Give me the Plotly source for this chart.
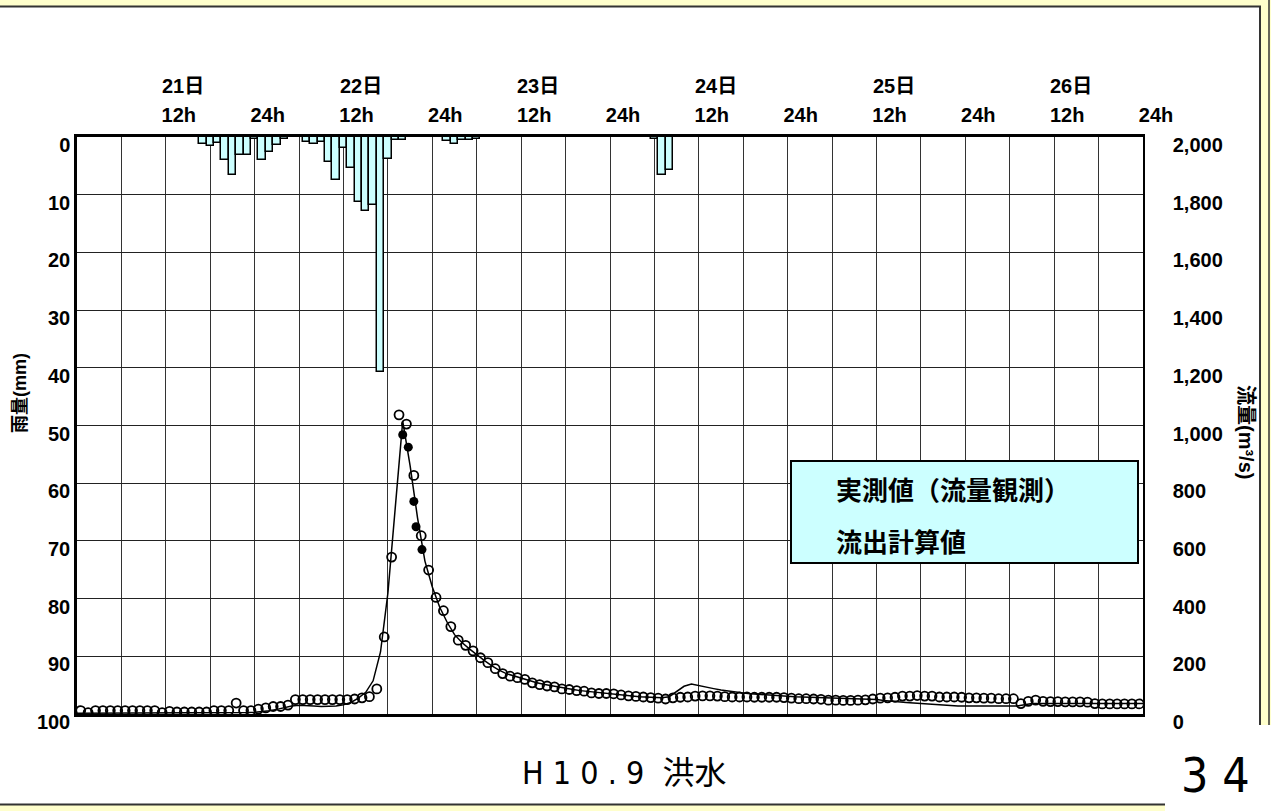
import plotly.graph_objects as go

# ---------------- data ----------------
# time axis: hours from 21日 0h (0) to 27日 0h (144)
tick_hours = [6, 12, 18, 24, 30, 36, 42, 48, 54, 60, 66, 72, 78, 84, 90, 96,
              102, 108, 114, 120, 126, 132, 138, 144]
tick_text = ["", "12h", "", "24h", "", "12h", "", "24h", "", "12h", "", "24h",
             "", "12h", "", "24h", "", "12h", "", "24h", "", "12h", "", "24h"]
day_hours = [12, 36, 60, 84, 108, 132]
day_labels = ["21日", "22日", "23日", "24日", "25日", "26日"]

# hourly rainfall (mm)
rain_hours = [17, 18, 19, 20, 21, 22, 23, 24, 25, 26, 27, 28,
              31, 32, 33, 34, 35, 36, 37, 38, 39, 40, 41, 42, 43, 44,
              50, 51, 52, 53, 54,
              78, 79, 80]
rain_mm = [1.2, 1.6, 1.0, 3.9, 6.6, 3.2, 3.2, 0.3, 3.9, 2.6, 1.3, 0.3,
           0.8, 1.2, 0.9, 4.3, 7.5, 1.9, 5.3, 11.2, 12.8, 11.8, 40.7, 3.8, 0.5, 0.5,
           0.7, 1.2, 0.5, 0.5, 0.3,
           0.3, 6.6, 5.7]

# observed discharge (m3/s), hourly, plotted at the half hour
obs_hours = list(range(0, 144))
obs_flow = [12, 5, 12, 12, 12, 12, 12, 12, 12, 12,
            12, 5, 9, 7, 7, 7, 7, 7, 12, 12,
            12, 38, 12, 12, 17, 21, 26, 26, 31, 50,
            50, 50, 50, 50, 50, 50, 50, 52, 56, 60,
            87, 267, 544, 1037, 1005, 827, 618, 499, 404, 358,
            303, 256, 238, 219, 195, 178, 157, 140, 131, 126,
            120, 108, 102, 97, 94, 87, 85, 81, 79, 73,
            71, 71, 70, 66, 63, 61, 59, 57, 55, 52,
            56, 58, 59, 62, 63, 63, 62, 60, 59, 59,
            59, 58, 58, 58, 58, 57, 55, 53, 53, 52,
            51, 48, 48, 47, 47, 48, 49, 52, 55, 56,
            58, 62, 62, 64, 62, 62, 59, 59, 59, 58,
            56, 56, 55, 55, 53, 53, 53, 36, 44, 48,
            44, 43, 43, 42, 42, 42, 41, 36, 35, 35,
            35, 35, 35, 35]

# discharge measurements (filled dots)
meas_hours = [44.0, 44.75, 45.5, 45.8, 46.6]
meas_flow = [968, 925, 737, 649, 570]

# computed runoff (m3/s), hourly
calc_hours = list(range(0, 145))
calc_flow = [3, 3, 3, 3, 3, 3, 3, 3, 3, 3,
             3, 3, 3, 3, 3, 3, 3, 3, 3, 3,
             3, 4, 4, 5, 6, 8, 11, 16, 22, 28,
             30, 30, 28, 26, 26, 28, 32, 40, 55, 75,
             115, 215, 420, 720, 1015, 860, 680, 530, 440, 370,
             318, 275, 248, 226, 205, 186, 168, 152, 140, 132,
             124, 116, 109, 103, 98, 93, 89, 85, 81, 78,
             75, 72, 70, 67, 64, 62, 60, 58, 57, 56,
             60, 78, 96, 104, 98, 93, 88, 83, 79, 76,
             73, 70, 68, 66, 64, 62, 61, 60, 59, 58,
             57, 56, 55, 54, 54, 53, 53, 52, 50, 47,
             44, 42, 40, 38, 37, 35, 33, 31, 29, 28,
             28, 28, 28, 28, 28, 28, 28, 28, 32, 36,
             36, 36, 36, 36, 36, 36, 36, 36, 36, 36,
             36, 36, 36, 36, 36]

rain_ticks = [0, 10, 20, 30, 40, 50, 60, 70, 80, 90, 100]
flow_ticks = [0, 200, 400, 600, 800, 1000, 1200, 1400, 1600, 1800, 2000]

name_obs = "実測値（流量観測）"
name_calc = "流出計算値"

# ---------------- layout geometry ----------------
W, H = 1271, 811
L, R, T, B = 77, 128, 137, 97
PW, PH = W - L - R, H - T - B


def fx(px):
    return (px - L) / PW


def fy(py):
    return (T + PH - py) / PH


TICKFONT = dict(family="Arial, Liberation Sans, Noto Sans CJK JP", size=20,
                color="black", weight="bold")
NARROW = "Liberation Sans Narrow, DejaVu Sans Condensed, Noto Sans, Noto Sans CJK JP"

fig = go.Figure()

fig.add_trace(go.Bar(
    x=rain_hours, y=rain_mm, width=1, yaxis="y",
    marker=dict(color="#CCFFFF", line=dict(color="black", width=1.5)),
    showlegend=False, name="雨量"))

fig.add_trace(go.Scatter(
    x=calc_hours, y=calc_flow, yaxis="y2", mode="lines",
    line=dict(color="black", width=1.5), showlegend=False, name=name_calc))

fig.add_trace(go.Scatter(
    x=[h + 0.5 for h in obs_hours], y=obs_flow, yaxis="y2", mode="markers",
    marker=dict(symbol="circle-open", size=9, color="black",
                line=dict(width=1.8, color="black")),
    showlegend=False, name=name_obs))

fig.add_trace(go.Scatter(
    x=meas_hours, y=meas_flow, yaxis="y2", mode="markers",
    marker=dict(symbol="circle", size=9, color="black"),
    showlegend=False, name="流量観測"))

# legend entries (text only, symbols hidden as in the original)
fig.add_trace(go.Scatter(
    x=[None], y=[None], yaxis="y2", mode="markers", name=name_obs,
    legendgroup="a", marker=dict(color="rgba(0,0,0,0)", size=1)))
fig.add_trace(go.Scatter(
    x=[None], y=[None], yaxis="y2", mode="lines", name=name_calc,
    legendgroup="b", line=dict(color="rgba(0,0,0,0)", width=0.1)))

shapes = []
# legend box
shapes.append(dict(type="rect", xref="paper", yref="paper",
                   x0=fx(791), x1=fx(1138), y0=fy(563), y1=fy(461),
                   fillcolor="#CCFFFF", line=dict(color="black", width=2),
                   layer="above"))
# slide frame
YEL = "#FFFFCC"
DARK = "#333333"
shapes += [
    dict(type="rect", xref="paper", yref="paper", x0=fx(0), x1=fx(W), y0=fy(6), y1=fy(0),
         fillcolor=YEL, line=dict(width=0), layer="above"),
    dict(type="rect", xref="paper", yref="paper", x0=fx(1261), x1=fx(W), y0=fy(725), y1=fy(0),
         fillcolor=YEL, line=dict(width=0), layer="above"),
    dict(type="rect", xref="paper", yref="paper", x0=fx(0), x1=fx(1165), y0=fy(H), y1=fy(805),
         fillcolor=YEL, line=dict(width=0), layer="above"),
    dict(type="line", xref="paper", yref="paper", x0=fx(0), x1=fx(1261), y0=fy(6.5), y1=fy(6.5),
         line=dict(color=DARK, width=2), layer="above"),
    dict(type="line", xref="paper", yref="paper", x0=fx(1260), x1=fx(1260), y0=fy(725), y1=fy(6),
         line=dict(color=DARK, width=2), layer="above"),
    dict(type="line", xref="paper", yref="paper", x0=fx(1269), x1=fx(1269), y0=fy(725), y1=fy(0),
         line=dict(color=DARK, width=1.5), layer="above"),
    dict(type="line", xref="paper", yref="paper", x0=fx(0), x1=fx(1165), y0=fy(804.5), y1=fy(804.5),
         line=dict(color=DARK, width=2), layer="above"),
]

annotations = []
for dh, dl in zip(day_hours, day_labels):
    annotations.append(dict(x=dh, y=fy(86), xref="x", yref="paper", text=dl,
                            showarrow=False, xshift=17, xanchor="center", yanchor="middle",
                            font=TICKFONT))
annotations.append(dict(x=fx(20), y=fy(393), xref="paper", yref="paper", text="雨量(mm)",
                        textangle=-90, showarrow=False, xanchor="center", yanchor="middle",
                        font=dict(family="Arial, Noto Sans CJK JP", size=18, color="black",
                                  weight="bold")))
annotations.append(dict(x=fx(1246), y=fy(432), xref="paper", yref="paper", text="流量(m³/s)",
                        textangle=90, showarrow=False, xanchor="center", yanchor="middle",
                        font=dict(family="Arial, Noto Sans CJK JP", size=20, color="black",
                                  weight="bold")))
annotations.append(dict(x=fx(624), y=fy(773), xref="paper", yref="paper",
                        text="H 1 0 . 9  <span style='font-size:32px'>洪水</span>",
                        showarrow=False, xanchor="center", yanchor="middle",
                        font=dict(family=NARROW, size=32, color="black")))
annotations.append(dict(x=fx(1215), y=fy(775), xref="paper", yref="paper", text="3 4",
                        showarrow=False, xanchor="center", yanchor="middle",
                        font=dict(family=NARROW, size=48, color="black")))

fig.update_layout(
    width=W, height=H,
    margin=dict(l=L, r=R, t=T, b=B, pad=0),
    paper_bgcolor="white", plot_bgcolor="white",
    bargap=0,
    showlegend=True,
    legend=dict(x=fx(796), y=fy(466), xanchor="left", yanchor="top",
                bgcolor="rgba(0,0,0,0)", borderwidth=0, tracegroupgap=16,
                font=dict(family="Noto Sans CJK JP", size=26, color="black", weight="bold")),
    xaxis=dict(range=[0, 144], side="top", tickmode="array", tickvals=tick_hours,
               ticktext=tick_text, showgrid=True, gridcolor="#333333", gridwidth=1,
               showline=True, linecolor="black", linewidth=2.5, mirror=True,
               ticks="", ticklabelshift=13, ticklabelstandoff=4, tickfont=TICKFONT,
               zeroline=False, fixedrange=True),
    yaxis=dict(range=[100, 0], tickmode="array", tickvals=rain_ticks,
               showgrid=True, gridcolor="#222222", gridwidth=1,
               showline=True, linecolor="black", linewidth=2.5, mirror=False,
               ticks="", ticklabelshift=-8, ticklabelstandoff=0, tickfont=TICKFONT,
               zeroline=False),
    yaxis2=dict(range=[0, 2000], overlaying="y", side="right", tickmode="array",
                tickvals=flow_ticks, tickformat=",d", showgrid=False,
                showline=True, linecolor="black", linewidth=1.5,
                ticks="", ticklabelshift=8, ticklabelstandoff=24, tickfont=TICKFONT,
                zeroline=False),
    shapes=shapes,
    annotations=annotations,
)

fig.write_html("out.html", config={"displayModeBar": False},
               post_script="document.body.style.margin='0';")
